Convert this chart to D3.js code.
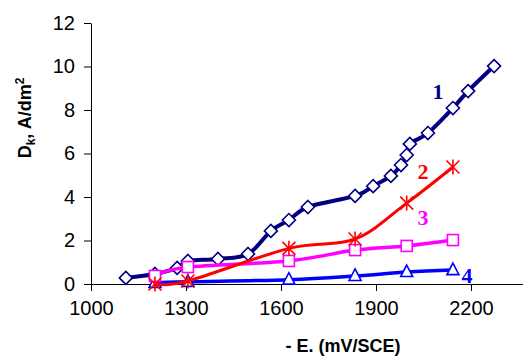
<!DOCTYPE html>
<html>
<head>
<meta charset="utf-8">
<script src="https://d3js.org/d3.v7.min.js"></script>
<style>
  html, body { margin: 0; padding: 0; background: #fff; }
  svg { display: block; }
</style>
</head>
<body>
<svg id="chart" width="523" height="356"></svg>
<script>
// Potential, -E (mV/SCE)
const e1 = [1110, 1202, 1272, 1306, 1401, 1496, 1568, 1625, 1685, 1834, 1891, 1947, 1979, 1997, 2007, 2064, 2143, 2191, 2273];
// Current density, A/dm2
const dk1 = [0.28, 0.46, 0.74, 1.06, 1.15, 1.38, 2.44, 2.94, 3.54, 4.05, 4.50, 4.97, 5.47, 5.93, 6.44, 6.94, 8.09, 8.87, 10.02];

const e2 = [1202, 1306, 1625, 1834, 1997, 2143];
const dk2 = [0.00, 0.14, 1.64, 2.07, 3.72, 5.38];

const e3 = [1202, 1306, 1625, 1834, 1997, 2143];
const dk3 = [0.37, 0.78, 1.06, 1.56, 1.75, 2.02];

const e4 = [1202, 1306, 1625, 1834, 1997, 2143];
const dk4 = [0.05, 0.10, 0.20, 0.37, 0.55, 0.64];

const xTicks = [1000, 1300, 1600, 1900, 2200];
const yTicks = [0, 2, 4, 6, 8, 10, 12];
const seriesLabels = ["1", "2", "3", "4"];

const svg = d3.select("#chart");
const x = d3.scaleLinear().domain([1000, 2400]).range([91, 534.3]);
const y = d3.scaleLinear().domain([0, 12]).range([284, 23]);

// Axes
const xAxis = d3.axisBottom(x).tickValues(xTicks).tickSize(7).tickSizeOuter(0).tickPadding(10).tickFormat(d3.format("d"));
const yAxis = d3.axisLeft(y).tickValues(yTicks).tickSize(7).tickSizeOuter(0).tickPadding(9).tickFormat(d3.format("d"));

const gx = svg.append("g").attr("transform", `translate(0,${y(0)})`).call(xAxis);
const gy = svg.append("g").attr("transform", `translate(${x(1000)},0)`).call(yAxis);
[gx, gy].forEach(g => {
  g.selectAll("path.domain").attr("stroke", "#000").attr("stroke-width", 1);
  g.selectAll(".tick line").attr("stroke", "#000").attr("stroke-width", 1);
  g.selectAll(".tick text").attr("fill", "#000")
    .style("font-family", "Liberation Sans, Arial, sans-serif").style("font-size", "20px");
});

// Axis titles
svg.append("text")
  .attr("x", 343).attr("y", 352)
  .attr("text-anchor", "middle")
  .style("font-family", "Liberation Sans, Arial, sans-serif")
  .style("font-size", "18px").style("font-weight", "bold")
  .text("- E. (mV/SCE)");

const yt = svg.append("text")
  .attr("transform", "translate(31,118) rotate(-90)")
  .attr("text-anchor", "middle")
  .style("font-family", "Liberation Sans, Arial, sans-serif")
  .style("font-size", "18px").style("font-weight", "bold");
yt.append("tspan").text("D");
yt.append("tspan").attr("dy", 4).style("font-size", "12px").text("k");
yt.append("tspan").attr("dy", -4).text(", A/dm");
yt.append("tspan").attr("dy", -7).style("font-size", "12px").text("2");

const line = d3.line().x(d => x(d[0])).y(d => y(d[1])).curve(d3.curveCardinal.tension(0));

const series = [
  { id: 1, e: e1, d: dk1, color: "#000080", w: 4, marker: "diamond" },
  { id: 4, e: e4, d: dk4, color: "#0000FF", w: 3.5, marker: "triangle" },
  { id: 3, e: e3, d: dk3, color: "#FF00FF", w: 3.5, marker: "square" },
  { id: 2, e: e2, d: dk2, color: "#FF0000", w: 3, marker: "star" }
];

series.forEach(s => {
  const pts = s.e.map((v, i) => [v, s.d[i]]);
  const g = svg.append("g");
  g.append("path").datum(pts)
    .attr("d", line).attr("fill", "none")
    .attr("stroke", s.color).attr("stroke-width", s.w)
    .attr("stroke-linejoin", "round").attr("stroke-linecap", "round");

  const m = g.selectAll("g.m").data(pts).enter().append("g")
    .attr("transform", d => `translate(${x(d[0])},${y(d[1])})`);
  if (s.marker === "diamond") {
    m.append("path").attr("d", "M0,-6.5L6.5,0L0,6.5L-6.5,0Z")
      .attr("fill", "#fff").attr("stroke", s.color).attr("stroke-width", 1.6);
  } else if (s.marker === "square") {
    m.append("rect").attr("x", -5.5).attr("y", -5.5).attr("width", 11).attr("height", 11)
      .attr("fill", "#fff").attr("stroke", s.color).attr("stroke-width", 1.6);
  } else if (s.marker === "triangle") {
    m.append("path").attr("d", "M0,-7L6,4.5L-6,4.5Z")
      .attr("fill", "#fff").attr("stroke", s.color).attr("stroke-width", 1.6);
  } else if (s.marker === "star") {
    const r = 6.5;
    m.append("path")
      .attr("d", `M${-r},${-r}L${r},${r}M${-r},${r}L${r},${-r}M0,${-r - 1}L0,${r + 1}`)
      .attr("stroke", s.color).attr("stroke-width", 1.6).attr("fill", "none");
  }
});

// Curve numbers
const labelPos = [[438, 99, "#000080"], [423, 179, "#FF0000"], [423, 225, "#FF00FF"], [467, 283, "#0000FF"]];
svg.selectAll("text.num").data(seriesLabels).enter().append("text")
  .attr("class", "num")
  .attr("x", (d, i) => labelPos[i][0]).attr("y", (d, i) => labelPos[i][1])
  .attr("text-anchor", "middle")
  .attr("fill", (d, i) => labelPos[i][2])
  .style("font-family", "Liberation Serif, Times New Roman, serif")
  .style("font-size", "22px").style("font-weight", "bold")
  .text(d => d);
</script>
</body>
</html>
